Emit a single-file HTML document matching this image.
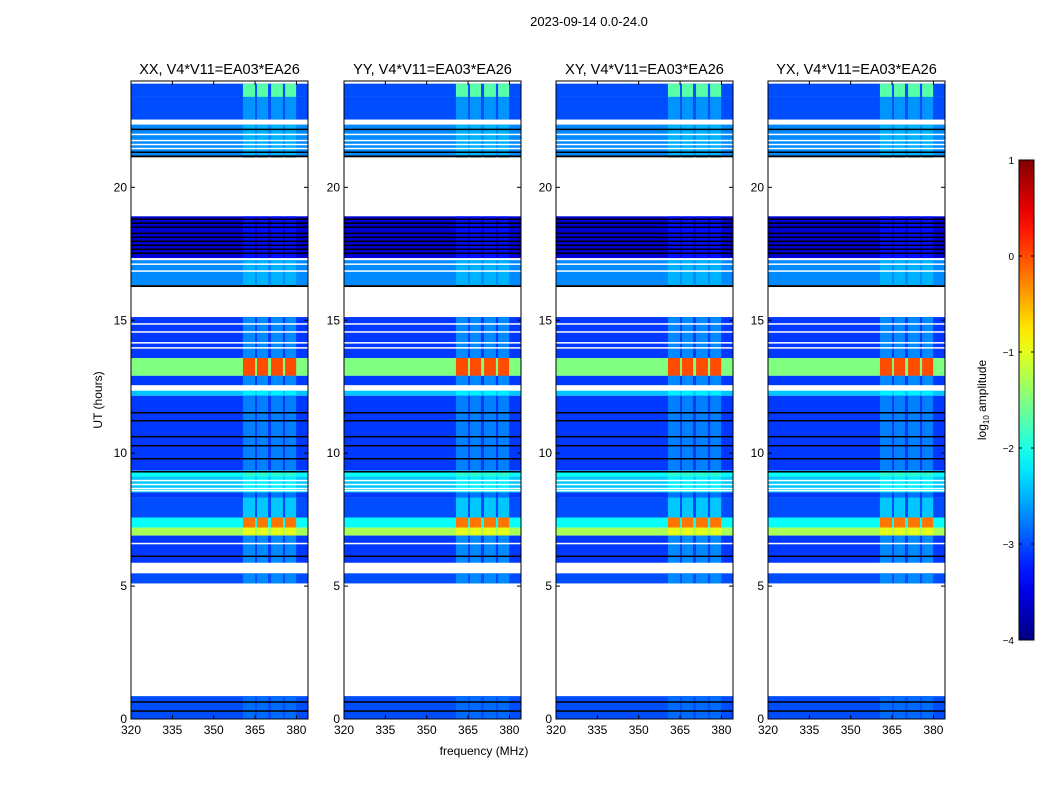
<!DOCTYPE html>
<html><head><meta charset="utf-8"><style>
body{margin:0;background:#fff;font-family:"Liberation Sans",sans-serif;}
svg text{font-family:"Liberation Sans",sans-serif;}
</style></head><body>
<svg id="fig" width="1050" height="800" xmlns="http://www.w3.org/2000/svg">
<text x="589" y="26" font-size="13" text-anchor="middle">2023-09-14 0.0-24.0</text>
<text x="484" y="755" font-size="12" text-anchor="middle">frequency (MHz)</text>
<text x="0" y="0" font-size="12" text-anchor="middle" transform="translate(102,400) rotate(-90)">UT (hours)</text>
<g id="panels"></g>
<g id="cbar"></g>
</svg>
<script>
// data
const panelTitles = ["XX, V4*V11=EA03*EA26","YY, V4*V11=EA03*EA26","XY, V4*V11=EA03*EA26","YX, V4*V11=EA03*EA26"];
const xTicks = [320,335,350,365,380];
const yTicks = [0,5,10,15,20];
const cbTicks = [1,0,-1,-2,-3,-4];
const rfiBands = [[360.6,365.0],[365.7,369.7],[370.8,375.1],[375.9,379.9]];
// [tStart, tEnd, base log amplitude, rfi-column log amplitude] ; null = flagged
const segments = [
[23.9,23.4,-3.0,-1.7],[23.4,22.55,-3.0,-2.65],[22.55,22.36,null,null],[22.36,21.2,-2.7,-2.5],
[21.2,21.13,-9,-9],[21.13,18.91,null,null],[18.91,17.34,-3.6,-3.3],[17.34,17.26,null,null],
[17.26,16.32,-2.7,-2.5],[16.32,16.25,-9,-9],[16.25,15.12,null,null],[15.12,13.58,-3.1,-2.7],
[13.58,12.91,-1.5,0.0],[12.91,12.53,-3.1,-2.7],[12.53,12.35,null,null],[12.35,12.16,-2.4,-2.2],
[12.16,9.34,-3.1,-2.75],[9.34,9.12,-2.1,-1.9],[9.12,8.52,-2.4,-2.2],[8.52,8.33,-3.1,-2.8],
[8.33,7.58,-3.0,-2.4],[7.58,7.2,-2.1,-0.2],[7.2,6.9,-1.3,-1.0],[6.9,5.85,-3.1,-2.7],
[5.85,5.48,null,null],[5.48,5.1,-3.0,-2.7],[5.1,0.86,null,null],[0.86,0,-3.0,-2.85]
];
const whiteLines = [21.99,21.76,21.61,21.46,17.11,16.85,14.86,14.56,14.15,13.96,12.53,8.97,8.82,8.67,8.59,6.6,5.85];
const blackLines = [22.18,21.32,18.8,18.65,18.5,18.27,18.12,17.97,17.82,17.67,17.52,11.52,11.22,10.62,10.28,9.79,9.3,6.12,0.64,0.3];

const NS="http://www.w3.org/2000/svg";
function el(tag,attrs,parent){const e=document.createElementNS(NS,tag);for(const k in attrs)e.setAttribute(k,attrs[k]);parent.appendChild(e);return e;}
function jet(v){
  if(v<-5) return "#000";
  let t=(v+4)/5;t=Math.max(0,Math.min(1,t));
  const f=(x)=>Math.max(0,Math.min(1,x));
  const r=f(1.5-Math.abs(4*t-3)),g=f(1.5-Math.abs(4*t-2)),b=f(1.5-Math.abs(4*t-1));
  return `rgb(${Math.round(r*255)},${Math.round(g*255)},${Math.round(b*255)})`;
}
const lefts=[131,344,556,768], W=177, pTop=81, pBot=719;
const xs=(f,l)=>l+(f-320)*(W/64.2);
const ys=(h)=>pBot-(pBot-pTop)*h/24;
const panelsG=document.getElementById('panels');
lefts.forEach((L,pi)=>{
  const g=el('g',{},panelsG);
  
  
  const clipId='c'+pi;
  const cp=el('clipPath',{id:clipId},g);el('rect',{x:L,y:pTop,width:W,height:pBot-pTop},cp);
  const dg=el('g',{'clip-path':`url(#${clipId})`},g);
  segments.forEach(s=>{
    if(s[2]===null) return;
    const y0=ys(s[0]),y1=ys(s[1]);
    const r=el('rect',{x:L,y:y0,width:W,height:y1-y0,fill:jet(s[2])},dg);
    
    
    rfiBands.forEach(b=>{
      const c=el('rect',{x:xs(b[0],L),y:y0,width:xs(b[1],L)-xs(b[0],L),height:y1-y0,fill:jet(s[3])},dg);
      
      
    });
  });
  whiteLines.forEach(h=>{const r=el('rect',{x:L,y:ys(h)-0.75,width:W,height:1.5,fill:'#fff'},dg);
    
    });
  blackLines.forEach(h=>{const r=el('rect',{x:L,y:ys(h)-0.75,width:W,height:1.5,fill:'#000'},dg);
    
    });
  el('rect',{x:L,y:pTop,width:W,height:pBot-pTop,fill:'none',stroke:'#000','stroke-width':1},g);
  const t=el('text',{x:L+W/2,y:74,'font-size':14.5,'text-anchor':'middle'},g);t.textContent=panelTitles[pi];
  
  
  xTicks.forEach(v=>{const x=xs(v,L);
    el('line',{x1:x,x2:x,y1:pBot,y2:pBot-4,stroke:'#000'},g);el('line',{x1:x,x2:x,y1:pTop,y2:pTop+4,stroke:'#000'},g);
    const tx=el('text',{x:x,y:pBot+15,'font-size':12,'text-anchor':'middle'},g);tx.textContent=v;
    
    });
  yTicks.forEach(v=>{const y=ys(v);
    el('line',{x1:L,x2:L+4,y1:y,y2:y,stroke:'#000'},g);el('line',{x1:L+W,x2:L+W-4,y1:y,y2:y,stroke:'#000'},g);
    const ty=el('text',{x:L-4,y:y+4,'font-size':12,'text-anchor':'end'},g);ty.textContent=v;
    
    });
});
// colorbar
const cb=document.getElementById('cbar');
const defs=el('defs',{},cb);const lg=el('linearGradient',{id:'jetg',x1:0,y1:1,x2:0,y2:0},defs);
for(let i=0;i<=20;i++){el('stop',{offset:i/20,'stop-color':jet(-4+5*i/20)},lg);}
const cbT=160,cbB=640,cbL=1019,cbW=15;
el('rect',{x:cbL,y:cbT,width:cbW,height:cbB-cbT,fill:'url(#jetg)',stroke:'#000'},cb);
cbTicks.forEach(v=>{const y=cbB-(v+4)/5*(cbB-cbT);
  el('line',{x1:cbL,x2:cbL+3,y1:y,y2:y,stroke:'#000'},cb);el('line',{x1:cbL+cbW,x2:cbL+cbW-3,y1:y,y2:y,stroke:'#000'},cb);
  const t=el('text',{x:cbL-5,y:y+4,'font-size':10,'text-anchor':'end'},cb);t.textContent=(v<0?'\u2212'+(-v):v);
  
  });
const lab=el('text',{'font-size':12,'text-anchor':'middle',transform:'translate(986,400) rotate(-90)'},cb);
lab.innerHTML='log<tspan font-size="8" dy="3">10</tspan><tspan dy="-3"> amplitude</tspan>';


</script>
</body></html>
